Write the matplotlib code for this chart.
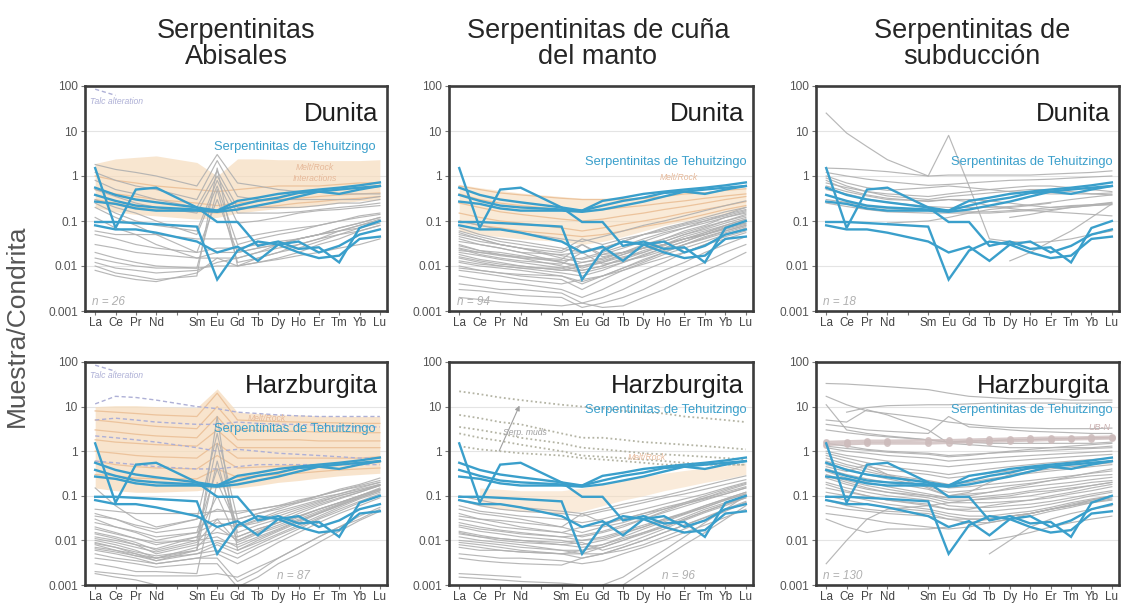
import numpy as np
import matplotlib
matplotlib.use("Agg")
import matplotlib.pyplot as plt
from matplotlib.ticker import FixedLocator, NullLocator

plt.rcParams['font.family'] = ['Liberation Sans', 'DejaVu Sans']

nan = float("nan")

# Rare earth elements (Pm has a slot on the axis but no data)
ree = ["La", "Ce", "Pr", "Nd", "Sm", "Eu", "Gd", "Tb", "Dy", "Ho", "Er", "Tm", "Yb", "Lu"]
ree_pos = [0, 1, 2, 3, 5, 6, 7, 8, 9, 10, 11, 12, 13, 14]

# Serpentinitas de Tehuitzingo (chondrite normalised)
teh_1 = [1.5, 0.07, 0.5, 0.55, 0.2, 0.095, 0.095, 0.028, 0.035, 0.024, 0.026, 0.012, 0.07, 0.1]
teh_2 = [0.095, 0.095, 0.09, 0.085, 0.075, 0.005, 0.022, 0.035, 0.03, 0.02, 0.015, 0.017, 0.04, 0.045]
teh_3 = [0.08, 0.065, 0.065, 0.055, 0.035, 0.02, 0.027, 0.013, 0.03, 0.035, 0.02, 0.028, 0.05, 0.065]
teh_4 = [0.55, 0.38, 0.3, 0.26, 0.2, 0.17, 0.28, 0.33, 0.4, 0.45, 0.5, 0.55, 0.62, 0.72]
teh_5 = [0.38, 0.28, 0.22, 0.2, 0.18, 0.17, 0.22, 0.28, 0.33, 0.42, 0.45, 0.4, 0.5, 0.6]
teh_6 = [0.27, 0.24, 0.19, 0.17, 0.17, 0.16, 0.18, 0.22, 0.27, 0.35, 0.45, 0.5, 0.55, 0.6]
tehuitzingo = [teh_1, teh_2, teh_3, teh_4, teh_5, teh_6]

# --- Abyssal dunites (n = 26) ---
abys_dun = [
    [1.8, 1.4, 1.2, 1.0, 0.6, 3.0, 0.7, 0.6, 0.5, 0.45, 0.45, 0.4, 0.4, 0.4],
    [1.2, 0.8, 0.6, 0.5, 0.3, 2.2, 0.35, 0.3, 0.3, 0.3, 0.3, 0.3, 0.3, 0.35],
    [0.8, 0.5, 0.4, 0.3, 0.2, 1.3, 0.2, 0.2, 0.2, 0.2, 0.22, 0.25, 0.25, 0.3],
    [0.5, 0.35, 0.25, 0.2, 0.15, 1.0, 0.15, 0.15, 0.15, 0.16, 0.18, 0.2, 0.22, 0.25],
    [0.3, 0.2, 0.15, 0.1, 0.05, 0.6, 0.03, 0.04, 0.05, 0.06, 0.08, 0.1, 0.13, 0.15],
    [0.2, 0.12, 0.08, 0.05, 0.02, 0.3, 0.02, 0.025, 0.03, 0.04, 0.05, 0.07, 0.09, 0.12],
    [0.12, 0.07, 0.05, 0.03, 0.015, 0.015, 0.015, 0.02, 0.025, 0.03, 0.04, 0.05, 0.06, 0.08],
    [0.05, 0.04, 0.03, 0.025, 0.02, 0.025, 0.025, 0.03, 0.035, 0.04, 0.05, 0.06, 0.07, 0.09],
    [0.03, 0.025, 0.02, 0.018, 0.015, 0.02, 0.02, 0.025, 0.03, 0.04, 0.05, 0.06, 0.08, 0.1],
    [0.02, 0.015, 0.012, 0.01, 0.009, 0.5, 0.012, 0.015, 0.02, 0.03, 0.04, 0.06, 0.08, 0.11],
    [0.012, 0.009, 0.008, 0.007, 0.008, 0.012, 0.015, 0.02, 0.03, 0.04, 0.05, 0.07, 0.09, 0.12],
    [0.01, 0.007, 0.006, 0.005, 0.006, 1.5, 0.01, 0.012, 0.015, 0.02, 0.03, 0.04, 0.06, 0.08],
    [0.008, 0.006, 0.005, 0.0045, 0.007, 0.015, 0.01, 0.015, 0.02, 0.025, 0.035, 0.05, 0.07, 0.1],
    [0.25, 0.15, 0.1, 0.08, 0.06, 0.8, 0.09, 0.1, 0.12, 0.15, 0.17, 0.18, 0.2, 0.22],
    [0.06, 0.05, 0.05, 0.05, 0.04, 0.04, 0.04, 0.05, 0.06, 0.07, 0.08, 0.1, 0.12, 0.14],
    [0.015, 0.012, 0.01, 0.009, 0.009, 0.01, 0.01, 0.012, 0.014, 0.017, 0.02, 0.025, 0.03, 0.04],
]
abys_dun_field_hi = [1.9, 2.4, 2.6, 2.8, 2.0, 1.0, 2.4, 2.4, 2.3, 2.3, 2.2, 2.2, 2.2, 2.3]
abys_dun_field_lo = [0.2, 0.16, 0.14, 0.13, 0.11, 0.12, 0.15, 0.17, 0.19, 0.2, 0.22, 0.25, 0.28, 0.3]
abys_dun_melt = [
    [1.0, 0.8, 0.7, 0.6, 0.5, 0.45, 0.5, 0.55, 0.6, 0.6, 0.6, 0.65, 0.7, 0.7],
    [0.5, 0.4, 0.35, 0.3, 0.25, 0.22, 0.25, 0.28, 0.3, 0.32, 0.35, 0.38, 0.4, 0.42],
    [0.3, 0.25, 0.2, 0.18, 0.16, 0.15, 0.18, 0.2, 0.22, 0.25, 0.27, 0.3, 0.32, 0.35],
]
talc_line = [85, 62]

# --- Mantle wedge dunites (n = 94) ---
wedge_dun = [
    [0.05, 0.04, 0.03, 0.025, 0.015, 0.012, 0.015, 0.02, 0.03, 0.04, 0.06, 0.08, 0.12, 0.16],
    [0.04, 0.03, 0.025, 0.02, 0.012, 0.01, 0.013, 0.018, 0.025, 0.035, 0.05, 0.07, 0.1, 0.13],
    [0.035, 0.03, 0.025, 0.02, 0.018, 0.02, 0.025, 0.035, 0.05, 0.07, 0.09, 0.12, 0.16, 0.2],
    [0.03, 0.022, 0.018, 0.015, 0.01, 0.008, 0.01, 0.015, 0.022, 0.03, 0.045, 0.06, 0.08, 0.11],
    [0.025, 0.02, 0.017, 0.015, 0.013, 0.015, 0.02, 0.028, 0.04, 0.055, 0.07, 0.09, 0.12, 0.15],
    [0.02, 0.017, 0.014, 0.012, 0.009, 0.007, 0.009, 0.012, 0.018, 0.025, 0.035, 0.05, 0.07, 0.09],
    [0.018, 0.014, 0.012, 0.01, 0.008, 0.01, 0.012, 0.018, 0.025, 0.035, 0.05, 0.065, 0.09, 0.12],
    [0.015, 0.012, 0.01, 0.009, 0.007, 0.006, 0.008, 0.012, 0.017, 0.025, 0.035, 0.05, 0.07, 0.1],
    [0.012, 0.01, 0.009, 0.008, 0.006, 0.004, 0.006, 0.009, 0.013, 0.02, 0.03, 0.045, 0.06, 0.08],
    [0.01, 0.008, 0.007, 0.006, 0.005, 0.003, 0.005, 0.008, 0.012, 0.018, 0.025, 0.035, 0.05, 0.07],
    [0.008, 0.007, 0.006, 0.005, 0.004, 0.005, 0.006, 0.009, 0.014, 0.02, 0.03, 0.04, 0.055, 0.075],
    [0.006, 0.005, 0.0045, 0.004, 0.003, 0.002, 0.003, 0.005, 0.008, 0.012, 0.02, 0.03, 0.045, 0.06],
    [0.004, 0.0035, 0.003, 0.003, 0.0025, 0.0015, 0.002, 0.003, 0.005, 0.008, 0.012, 0.02, 0.03, 0.045],
    [0.07, 0.05, 0.04, 0.035, 0.025, 0.02, 0.025, 0.035, 0.05, 0.065, 0.085, 0.11, 0.14, 0.18],
    [0.06, 0.045, 0.035, 0.03, 0.022, 0.04, 0.03, 0.04, 0.05, 0.06, 0.08, 0.1, 0.13, 0.17],
    [0.045, 0.035, 0.03, 0.025, 0.02, 0.03, 0.018, 0.02, 0.025, 0.03, 0.04, 0.05, 0.07, 0.09],
    [0.022, 0.02, 0.018, 0.016, 0.014, 0.03, 0.016, 0.02, 0.025, 0.03, 0.04, 0.05, 0.065, 0.085],
    [0.028, 0.022, 0.02, 0.017, 0.012, 0.009, 0.012, 0.016, 0.02, 0.028, 0.04, 0.055, 0.075, 0.1],
    [0.016, 0.013, 0.011, 0.01, 0.008, 0.008, 0.01, 0.014, 0.02, 0.03, 0.04, 0.055, 0.08, 0.11],
    [0.009, 0.008, 0.007, 0.0065, 0.006, 0.0045, 0.006, 0.008, 0.011, 0.015, 0.02, 0.03, 0.04, 0.055],
    [0.003, 0.0028, 0.0025, 0.0022, 0.002, 0.0012, 0.0015, 0.002, 0.003, 0.005, 0.008, 0.012, 0.02, 0.03],
    [0.002, 0.0018, 0.0016, 0.0015, 0.0013, 0.0015, 0.0012, 0.0013, 0.002, 0.003, 0.005, 0.008, 0.012, 0.02],
    [0.1, 0.08, 0.065, 0.055, 0.04, 0.035, 0.045, 0.06, 0.08, 0.1, 0.13, 0.17, 0.22, 0.28],
    [0.055, 0.04, 0.03, 0.025, 0.017, 0.014, 0.018, 0.025, 0.035, 0.05, 0.07, 0.1, 0.14, 0.2],
    [0.013, 0.011, 0.01, 0.009, 0.009, 0.012, 0.014, 0.02, 0.028, 0.04, 0.055, 0.075, 0.1, 0.14],
    [0.024, 0.018, 0.015, 0.013, 0.011, 0.02, 0.011, 0.013, 0.016, 0.022, 0.03, 0.042, 0.06, 0.08],
]
wedge_dun_field_hi = [0.65, 0.55, 0.48, 0.42, 0.35, 0.32, 0.32, 0.33, 0.35, 0.38, 0.42, 0.45, 0.5, 0.55]
wedge_dun_field_lo = [0.06, 0.05, 0.045, 0.04, 0.035, 0.03, 0.035, 0.045, 0.06, 0.08, 0.1, 0.12, 0.15, 0.2]
wedge_dun_melt = [
    [0.6, 0.5, 0.42, 0.38, 0.32, 0.3, 0.3, 0.3, 0.32, 0.35, 0.4, 0.42, 0.48, 0.52],
    [0.4, 0.3, 0.25, 0.22, 0.18, 0.16, 0.18, 0.2, 0.22, 0.25, 0.28, 0.32, 0.36, 0.4],
    [0.25, 0.2, 0.16, 0.14, 0.11, 0.1, 0.11, 0.13, 0.15, 0.18, 0.21, 0.25, 0.3, 0.35],
    [0.15, 0.12, 0.1, 0.09, 0.07, 0.06, 0.07, 0.085, 0.1, 0.12, 0.15, 0.18, 0.22, 0.27],
    [0.1, 0.08, 0.07, 0.06, 0.05, 0.045, 0.05, 0.06, 0.075, 0.09, 0.11, 0.14, 0.18, 0.22],
]

# --- Subduction dunites (n = 18) ---
subd_dun = [
    [25, 9, 4.5, 2.3, 1.0, 8.0, 0.6, 0.04, 0.035, 0.033, 0.035, 0.04, 0.05, 0.06],
    [1.5, 1.45, 1.35, 1.25, 1.0, 1.05, 1.05, 1.05, 1.05, 1.05, 1.1, 1.15, 1.2, 1.3],
    [1.2, 1.0, 0.85, 0.75, 0.62, 0.65, 0.7, 0.75, 0.8, 0.82, 0.85, 0.9, 0.95, 1.0],
    [1.0, 0.7, 0.55, 0.48, 0.55, 0.6, 0.55, 0.5, 0.45, 0.42, 0.4, 0.4, 0.4, 0.42],
    [0.9, 0.6, 0.45, 0.36, 0.3, 0.35, 0.38, 0.42, 0.46, 0.5, 0.5, 0.45, 0.4, 0.38],
    [0.8, 0.5, 0.38, 0.32, 0.27, 0.3, 0.27, 0.22, 0.19, 0.17, 0.16, 0.15, 0.14, 0.13],
    [0.6, 0.45, 0.36, 0.3, 0.28, 0.3, 0.3, 0.28, 0.25, 0.22, 0.2, 0.21, 0.23, 0.26],
    [0.5, 0.4, 0.31, 0.26, 0.21, 0.2, 0.2, 0.2, 0.21, 0.23, 0.26, 0.3, 0.34, 0.38],
    [0.3, 0.26, 0.21, 0.19, 0.17, 0.16, 0.16, 0.16, 0.17, 0.18, 0.2, 0.22, 0.23, 0.25],
    [0.25, 0.21, 0.18, 0.16, 0.15, 0.15, 0.15, 0.15, 0.16, 0.17, 0.18, 0.2, 0.22, 0.24],
    [nan, nan, nan, nan, nan, nan, nan, nan, 0.013, 0.02, 0.035, 0.06, 0.12, 0.24],
    [nan, nan, nan, nan, nan, nan, nan, nan, 0.12, 0.14, 0.17, 0.2, 0.22, 0.23],
    [0.7, 0.55, 0.45, 0.4, 0.35, 0.4, 0.45, 0.5, 0.55, 0.6, 0.6, 0.55, 0.5, 0.45],
    [nan, nan, nan, 0.09, 0.1, 0.12, 0.15, 0.18, 0.2, 0.22, 0.25, nan, nan, nan],
]

# --- Abyssal harzburgites (n = 87) ---
abys_hz = [
    [0.04, 0.03, 0.02, 0.015, 0.02, 0.03, 0.03, 0.04, 0.05, 0.07, 0.1, 0.13, 0.17, 0.22],
    [0.03, 0.02, 0.015, 0.01, 0.015, 0.4, 0.02, 0.03, 0.045, 0.06, 0.08, 0.11, 0.15, 0.2],
    [0.02, 0.015, 0.011, 0.008, 0.012, 0.015, 0.012, 0.018, 0.025, 0.035, 0.05, 0.07, 0.1, 0.14],
    [0.015, 0.012, 0.009, 0.006, 0.01, 1.5, 0.015, 0.022, 0.03, 0.045, 0.065, 0.09, 0.12, 0.17],
    [0.012, 0.01, 0.008, 0.005, 0.008, 0.01, 0.008, 0.012, 0.018, 0.028, 0.04, 0.06, 0.09, 0.13],
    [0.01, 0.008, 0.006, 0.004, 0.007, 0.02, 0.01, 0.015, 0.022, 0.033, 0.05, 0.07, 0.1, 0.15],
    [0.009, 0.007, 0.005, 0.004, 0.006, 6.0, 0.006, 0.01, 0.016, 0.025, 0.04, 0.06, 0.09, 0.13],
    [0.008, 0.006, 0.005, 0.0035, 0.005, 0.008, 0.005, 0.008, 0.013, 0.02, 0.032, 0.05, 0.075, 0.11],
    [0.007, 0.006, 0.0045, 0.0035, 0.006, 0.6, 0.012, 0.018, 0.025, 0.035, 0.05, 0.07, 0.1, 0.14],
    [0.006, 0.005, 0.004, 0.003, 0.004, 0.005, 0.003, 0.005, 0.009, 0.015, 0.025, 0.04, 0.06, 0.09],
    [0.005, 0.004, 0.0035, 0.003, 0.004, 0.004, 0.0012, 0.002, 0.004, 0.007, 0.012, 0.02, 0.035, 0.055],
    [0.004, 0.0035, 0.003, 0.0025, 0.003, 0.003, 0.0009, 0.0015, 0.003, 0.005, 0.009, 0.016, 0.028, 0.045],
    [0.003, 0.0025, 0.002, 0.002, 0.0018, 0.2, 0.02, 0.025, 0.035, 0.05, 0.07, 0.1, 0.13, 0.18],
    [0.002, 0.0018, 0.0016, 0.0016, 0.0016, 0.0018, 0.0015, 0.0025, 0.004, 0.007, 0.012, 0.02, 0.03, 0.05],
    [0.0018, 0.0015, 0.0013, 0.001, nan, nan, nan, nan, nan, nan, nan, nan, nan, nan],
    [0.15, 0.06, 0.03, 0.02, 0.03, 0.05, 0.04, 0.05, 0.06, 0.08, 0.1, 0.13, 0.16, 0.2],
    [0.05, 0.045, 0.04, 0.04, 0.04, 0.045, 0.045, 0.05, 0.06, 0.07, 0.09, 0.11, 0.14, 0.18],
    [0.025, 0.02, 0.016, 0.012, 0.015, 0.025, 0.02, 0.028, 0.04, 0.055, 0.075, 0.1, 0.13, 0.17],
    [0.011, 0.009, 0.007, 0.0055, 0.009, 0.03, 0.009, 0.014, 0.02, 0.03, 0.045, 0.065, 0.1, 0.14],
    [0.0065, 0.0055, 0.0045, 0.004, 0.005, 0.006, 0.004, 0.007, 0.011, 0.018, 0.03, 0.045, 0.07, 0.1],
    [0.014, 0.011, 0.008, 0.0065, 0.012, 0.1, 0.01, 0.016, 0.025, 0.04, 0.06, 0.085, 0.12, 0.17],
    [0.035, 0.03, 0.022, 0.018, 0.03, 2.5, 0.03, 0.04, 0.055, 0.075, 0.1, 0.14, 0.18, 0.25],
    [0.018, 0.014, 0.011, 0.009, 0.01, 0.012, 0.007, 0.011, 0.017, 0.027, 0.042, 0.063, 0.095, 0.14],
    [0.0085, 0.007, 0.0055, 0.0045, 0.006, 0.009, 0.006, 0.009, 0.014, 0.022, 0.035, 0.055, 0.085, 0.12],
]
abys_hz_field_hi = [10, 10.5, 10.5, 10, 9.5, 25, 7.5, 7, 6.5, 6.5, 6.2, 6, 6, 6]
abys_hz_field_lo = [0.15, 0.13, 0.12, 0.12, 0.13, 0.15, 0.15, 0.17, 0.2, 0.22, 0.25, 0.28, 0.3, 0.32]
abys_hz_melt = [
    [8, 7.5, 7, 6.5, 6, 20, 5, 4.8, 4.6, 4.5, 4.4, 4.3, 4.2, 4.2],
    [5, 4.5, 4, 3.6, 3.2, 10, 3, 2.9, 2.8, 2.8, 2.7, 2.7, 2.6, 2.6],
    [3, 2.7, 2.4, 2.2, 2, 6, 1.8, 1.8, 1.8, 1.8, 1.7, 1.7, 1.7, 1.7],
    [1.8, 1.6, 1.5, 1.4, 1.3, 3, 1.2, 1.2, 1.2, 1.2, 1.2, 1.2, 1.2, 1.2],
    [1.0, 0.9, 0.8, 0.75, 0.7, 1.5, 0.7, 0.7, 0.7, 0.7, 0.7, 0.7, 0.7, 0.75],
    [0.6, 0.5, 0.45, 0.42, 0.4, 0.8, 0.42, 0.44, 0.46, 0.48, 0.5, 0.52, 0.54, 0.56],
    [0.3, 0.28, 0.25, 0.24, 0.24, 0.4, 0.26, 0.28, 0.3, 0.32, 0.35, 0.38, 0.4, 0.42],
]
abys_hz_talc = [
    [11.5, 17, 16, 14, 10, 9, 7.5, 7, 6.5, 6.2, 6, 6, 6, 6],
    [5, 5.5, 5, 4.5, 4, 4, 4.5, 4.2, 4, 4, 3.8, 3.6, 3.5, 3.5],
    [2.2, 2, 1.8, 1.6, 1.2, 1, 1.1, 1, 0.9, 0.85, 0.8, 0.75, 0.7, 0.7],
    [0.6, 0.55, 0.5, 0.45, 0.4, 0.4, 0.45, 0.5, 0.5, 0.5, 0.5, 0.5, 0.5, 0.5],
]

# --- Mantle wedge harzburgites (n = 96) ---
wedge_hz = [
    [0.08, 0.06, 0.05, 0.045, 0.04, 0.035, 0.045, 0.055, 0.07, 0.09, 0.11, 0.14, 0.18, 0.23],
    [0.06, 0.045, 0.04, 0.035, 0.03, 0.025, 0.03, 0.04, 0.05, 0.065, 0.085, 0.11, 0.15, 0.2],
    [0.05, 0.04, 0.035, 0.03, 0.02, 0.015, 0.02, 0.025, 0.035, 0.05, 0.07, 0.1, 0.14, 0.19],
    [0.04, 0.03, 0.025, 0.02, 0.015, 0.012, 0.015, 0.02, 0.03, 0.045, 0.065, 0.09, 0.13, 0.18],
    [0.03, 0.025, 0.02, 0.018, 0.015, 0.02, 0.022, 0.03, 0.04, 0.055, 0.07, 0.09, 0.12, 0.16],
    [0.025, 0.02, 0.017, 0.015, 0.012, 0.01, 0.012, 0.016, 0.022, 0.03, 0.042, 0.06, 0.085, 0.12],
    [0.02, 0.016, 0.014, 0.012, 0.01, 0.008, 0.01, 0.014, 0.02, 0.028, 0.04, 0.055, 0.08, 0.11],
    [0.016, 0.013, 0.011, 0.01, 0.009, 0.01, 0.011, 0.015, 0.02, 0.03, 0.04, 0.06, 0.085, 0.12],
    [0.014, 0.012, 0.01, 0.009, 0.008, 0.007, 0.008, 0.011, 0.015, 0.02, 0.03, 0.045, 0.065, 0.09],
    [0.012, 0.01, 0.009, 0.008, 0.006, 0.005, 0.007, 0.01, 0.014, 0.02, 0.03, 0.045, 0.065, 0.095],
    [0.01, 0.009, 0.008, 0.007, 0.006, 0.006, 0.008, 0.012, 0.018, 0.026, 0.038, 0.055, 0.08, 0.11],
    [0.009, 0.008, 0.007, 0.006, 0.005, 0.004, 0.005, 0.007, 0.01, 0.015, 0.022, 0.032, 0.048, 0.07],
    [0.008, 0.007, 0.006, 0.0055, 0.005, 0.006, 0.007, 0.01, 0.015, 0.022, 0.033, 0.05, 0.07, 0.1],
    [0.005, 0.0045, 0.004, 0.004, 0.0035, 0.003, 0.0035, 0.005, 0.007, 0.01, 0.015, 0.022, 0.033, 0.05],
    [0.004, 0.0035, 0.0032, 0.003, 0.0028, 0.004, 0.005, 0.007, 0.01, 0.015, 0.022, 0.033, 0.05, 0.075],
    [0.0018, 0.0017, 0.0016, 0.0015, nan, nan, nan, nan, nan, nan, nan, nan, nan, nan],
    [0.0015, 0.0014, 0.0013, 0.0012, 0.0011, 0.001, nan, nan, nan, nan, nan, nan, nan, nan],
    [nan, nan, nan, nan, nan, nan, nan, 0.001, 0.002, 0.004, 0.008, 0.015, 0.03, 0.06],
    [nan, nan, nan, nan, nan, nan, 0.001, 0.0015, 0.003, 0.006, 0.012, 0.025, 0.05, 0.1],
    [0.1, 0.08, 0.065, 0.055, 0.045, 0.04, 0.05, 0.065, 0.08, 0.1, 0.13, 0.17, 0.22, 0.28],
    [0.035, 0.03, 0.028, 0.025, 0.02, 0.04, 0.025, 0.03, 0.04, 0.05, 0.065, 0.085, 0.11, 0.15],
    [0.015, 0.012, 0.011, 0.01, 0.008, 0.009, 0.006, 0.008, 0.012, 0.018, 0.028, 0.042, 0.06, 0.09],
    [0.007, 0.006, 0.006, 0.0055, 0.005, 0.005, 0.005, 0.006, 0.008, 0.012, 0.018, 0.028, 0.045, 0.07],
    [0.022, 0.018, 0.016, 0.014, 0.012, 0.013, 0.016, 0.022, 0.03, 0.042, 0.058, 0.08, 0.11, 0.15],
]
wedge_hz_muds = [
    [22, 19, 16, 14, 11, 10, 9, 8, 7.5, 7, 6, 5.5, 5, 4.5],
    [6.5, 5.5, 4.5, 4, 2.5, 2, 2, 1.8, 1.6, 1.5, 1.4, 1.3, 1.2, 1.1],
    [3.5, 3, 2.5, 2, 1.5, 1.2, 1.1, 1.0, 0.9, 0.85, 0.8, 0.75, 0.7, 0.65],
    [2.5, 2, 1.7, 1.4, 1.0, 0.8, 0.75, 0.7, 0.65, 0.6, 0.55, 0.5, 0.5, 0.5],
    [1.3, 1.1, 1.0, 0.9, 0.8, 0.7, 0.65, 0.6, 0.55, 0.5, 0.5, 0.5, 0.5, 0.5],
]
wedge_hz_field_hi = [nan, 0.15, 0.14, 0.13, 0.13, 0.15, 0.18, 0.22, 0.27, 0.32, 0.37, 0.42, 0.47, 0.55]
wedge_hz_field_lo = [nan, 0.06, 0.05, 0.045, 0.04, 0.045, 0.06, 0.08, 0.1, 0.13, 0.16, 0.2, 0.24, 0.3]

# --- Subduction harzburgites (n = 130) ---
subd_hz = [
    [33, 32, 30, 28, 24, 20, 17, 16, 15, 15, 15, 14, 14, 14],
    [17, 11, 8, 7, 5.5, 4.5, 4, 3.6, 3.4, 3.3, 3.2, 3.2, 3.2, 3.3],
    [11, 3, 2.5, 2.2, 1.8, 1.6, 1.7, 1.7, 1.8, 1.8, 1.9, 1.9, 2, 2],
    [nan, 7.5, 9.5, 10.5, 11, 11, 11.5, 12, 12, 12, 12, 12, 12, 12.5],
    [5, 4.5, 8.5, 6.5, 3, 1.5, 1.4, 1.3, 1.2, 1.2, 1.2, 1.2, 1.2, 1.3],
    [4, 3.5, 3, 2.8, 2.5, 6, 3.5, 3.3, 3, 2.8, 2.7, 2.6, 2.5, 2.5],
    [3, 2.6, 2.3, 2.1, 1.8, 1.6, 1.6, 1.5, 1.5, 1.5, 1.5, 1.5, 1.5, 1.6],
    [1.5, 1.3, 1.1, 1.0, 0.9, 0.8, 0.85, 0.9, 0.95, 1.0, 1.05, 1.1, 1.15, 1.2],
    [1.2, 1.0, 0.9, 0.8, 0.7, 0.6, 0.65, 0.7, 0.75, 0.8, 0.85, 0.9, 0.95, 1.0],
    [1.0, 0.8, 0.7, 0.6, 0.5, 0.45, 0.5, 0.55, 0.6, 0.65, 0.7, 0.75, 0.8, 0.85],
    [0.9, 0.7, 0.55, 0.45, 0.35, 0.3, 0.35, 0.4, 0.45, 0.5, 0.55, 0.6, 0.65, 0.7],
    [0.8, 0.6, 0.45, 0.38, 0.3, 0.25, 0.28, 0.32, 0.36, 0.4, 0.45, 0.5, 0.55, 0.6],
    [0.7, 0.5, 0.4, 0.3, 0.22, 0.18, 0.2, 0.24, 0.28, 0.32, 0.36, 0.4, 0.45, 0.5],
    [0.6, 0.45, 0.35, 0.28, 0.2, 0.15, 0.16, 0.18, 0.2, 0.22, 0.25, 0.28, 0.32, 0.36],
    [0.5, 0.4, 0.3, 0.24, 0.16, 0.12, 0.13, 0.15, 0.17, 0.19, 0.22, 0.25, 0.28, 0.3],
    [0.4, 0.3, 0.24, 0.2, 0.14, 0.1, 0.11, 0.12, 0.14, 0.16, 0.18, 0.2, 0.23, 0.26],
    [0.35, 0.25, 0.2, 0.16, 0.11, 0.09, 0.09, 0.1, 0.11, 0.13, 0.15, 0.17, 0.2, 0.22],
    [0.3, 0.22, 0.17, 0.14, 0.1, 0.08, 0.08, 0.085, 0.09, 0.1, 0.12, 0.14, 0.17, 0.2],
    [0.25, 0.18, 0.14, 0.12, 0.09, 0.07, 0.07, 0.07, 0.075, 0.08, 0.09, 0.11, 0.13, 0.16],
    [0.2, 0.15, 0.12, 0.1, 0.08, 0.06, 0.055, 0.055, 0.06, 0.065, 0.075, 0.09, 0.11, 0.13],
    [0.15, 0.12, 0.1, 0.08, 0.065, 0.05, 0.045, 0.045, 0.05, 0.055, 0.065, 0.08, 0.1, 0.12],
    [0.12, 0.1, 0.08, 0.065, 0.05, 0.04, 0.035, 0.035, 0.04, 0.045, 0.055, 0.07, 0.085, 0.1],
    [0.1, 0.08, 0.065, 0.055, 0.045, 0.035, 0.03, 0.03, 0.035, 0.04, 0.05, 0.06, 0.075, 0.09],
    [0.08, 0.06, 0.05, 0.045, 0.04, 0.03, 0.025, 0.025, 0.03, 0.035, 0.045, 0.055, 0.07, 0.085],
    [0.06, 0.05, 0.045, 0.04, 0.035, 0.03, 0.03, 0.03, 0.035, 0.04, 0.05, 0.06, 0.08, 0.1],
    [0.04, 0.035, 0.03, 0.025, 0.02, 0.018, 0.02, 0.025, 0.03, 0.04, 0.05, 0.065, 0.08, 0.1],
    [0.03, 0.02, 0.015, 0.018, 0.018, 0.02, 0.025, 0.03, 0.035, 0.04, 0.05, 0.06, 0.07, 0.08],
    [0.003, 0.01, 0.03, 0.05, 0.06, 0.07, 0.08, 0.09, 0.1, 0.12, 0.13, 0.15, 0.17, 0.2],
    [nan, nan, nan, nan, nan, nan, 0.01, 0.01, 0.012, 0.015, 0.02, 0.025, 0.03, 0.035],
    [nan, nan, nan, nan, nan, nan, nan, 0.005, 0.01, 0.02, 0.03, 0.04, 0.05, 0.06],
    [0.45, 0.35, 0.5, 0.3, 0.15, 0.1, 0.12, 0.2, 0.3, 0.35, 0.4, 0.45, 0.5, 0.55],
    [1.3, 1.15, 1.05, 0.95, 0.85, 0.75, 0.8, 0.9, 1.0, 1.1, 1.2, 1.3, 1.4, 1.5],
    [0.28, 0.2, 0.15, 0.12, 0.1, 0.09, 0.1, 0.12, 0.15, 0.18, 0.22, 0.27, 0.33, 0.4],
    [0.18, 0.13, 0.1, 0.08, 0.06, 0.05, 0.05, 0.06, 0.07, 0.08, 0.1, 0.12, 0.15, 0.18],
]
subd_hz_ubn = [
    [1.4, 1.45, 1.5, 1.5, 1.5, 1.55, 1.6, 1.65, 1.7, 1.75, 1.8, 1.85, 1.9, 1.95],
    [1.6, 1.65, 1.7, 1.7, 1.75, 1.75, 1.8, 1.85, 1.9, 1.95, 2.0, 2.0, 2.05, 2.1],
]

# ---------------------------------------------------------------- figure
W, H = 1121, 605
fig = plt.figure(figsize=(W / 100, H / 100), dpi=100)
fig.patch.set_facecolor("white")

GRAY = "#b0b0b0"
BLUE = "#3a9fcb"
PEACH = "#f6dcbd"
ORANGE = "#ecc39c"
LAVENDER = "#aeb0d6"


def fx(x):
    return x / W


def fy(y):
    return 1 - y / H


def make_panel(left, top, right, bottom):
    ax = fig.add_axes([fx(left), fy(bottom), (right - left) / W, (bottom - top) / H])
    ax.set_yscale("log")
    ax.set_ylim(0.001, 100)
    ax.set_xlim(-0.5, 14.35)
    ax.yaxis.set_major_locator(FixedLocator([0.001, 0.01, 0.1, 1, 10, 100]))
    ax.yaxis.set_minor_locator(NullLocator())
    ax.set_yticklabels(["0.001", "0.01", "0.1", "1", "10", "100"])
    ax.set_xticks(list(range(15)))
    ax.set_xticklabels(ree[:4] + [""] + ree[4:])
    ax.tick_params(axis="both", direction="out", length=3.2, width=0.8,
                   color="#777777", labelsize=8.6, labelcolor="#555555", pad=2)
    ax.tick_params(axis="x", labelcolor="#444444", pad=1.2, labelsize=8.4)
    for s in ax.spines.values():
        s.set_linewidth(1.9)
        s.set_color("#3c3c3c")
    for v in [0.01, 0.1, 1, 10]:
        ax.axhline(v, color="#e4e4e4", lw=0.8, zorder=0)
    return ax


def draw_lines(ax, rows, **kw):
    for r in rows:
        ax.plot(ree_pos, np.array(r, dtype=float), **kw)


def draw_teh(ax):
    for r in tehuitzingo:
        ax.plot(ree_pos, r, color=BLUE, lw=1.7, zorder=6, solid_joinstyle="miter")


cols = [(85, 387), (449, 753), (816, 1119)]
rows = [(86, 311), (362, 585)]

axes = {}
for i, (t, b) in enumerate(rows):
    for j, (l, r) in enumerate(cols):
        axes[(i, j)] = make_panel(l, t, r, b)

gkw = dict(color=GRAY, lw=0.85, alpha=0.9, zorder=2)

# Abyssal dunites
ax = axes[(0, 0)]
ax.fill_between(ree_pos, abys_dun_field_lo, abys_dun_field_hi, color=PEACH, alpha=0.7, lw=0, zorder=1)
draw_lines(ax, abys_dun_melt, color=ORANGE, lw=0.9, zorder=1.5)
draw_lines(ax, abys_dun, **gkw)
ax.plot(ree_pos[:2], talc_line, color=LAVENDER, lw=1.0, ls=(0, (3, 2)), zorder=2)
draw_teh(ax)

# Mantle wedge dunites
ax = axes[(0, 1)]
ax.fill_between(ree_pos, wedge_dun_field_lo, wedge_dun_field_hi, color=PEACH, alpha=0.6, lw=0, zorder=1)
draw_lines(ax, wedge_dun_melt, color=ORANGE, lw=0.9, zorder=1.5)
draw_lines(ax, wedge_dun, **gkw)
draw_teh(ax)

# Subduction dunites
ax = axes[(0, 2)]
draw_lines(ax, subd_dun, **gkw)
draw_teh(ax)

# Abyssal harzburgites
ax = axes[(1, 0)]
ax.fill_between(ree_pos, abys_hz_field_lo, abys_hz_field_hi, color=PEACH, alpha=0.75, lw=0, zorder=1)
draw_lines(ax, abys_hz_melt, color=ORANGE, lw=0.9, zorder=1.5)
draw_lines(ax, abys_hz_talc, color=LAVENDER, lw=1.0, ls=(0, (3, 2)), zorder=1.8)
draw_lines(ax, abys_hz, **gkw)
ax.plot(ree_pos[:2], talc_line, color=LAVENDER, lw=1.0, ls=(0, (3, 2)), zorder=2)
draw_teh(ax)

# Mantle wedge harzburgites
ax = axes[(1, 1)]
ax.fill_between(ree_pos, wedge_hz_field_lo, wedge_hz_field_hi, color=PEACH, alpha=0.55, lw=0, zorder=1)
draw_lines(ax, wedge_hz_muds, color="#b4b4a4", lw=1.3, ls=(0, (1, 1.5)), zorder=1.8)
draw_lines(ax, wedge_hz, **gkw)
ax.annotate("", xy=(3.0, 12), xytext=(1.9, 0.9),
            arrowprops=dict(arrowstyle="-|>", color="#a0a0a0", lw=0.8, mutation_scale=7))
draw_teh(ax)

# Subduction harzburgites
ax = axes[(1, 2)]
draw_lines(ax, subd_hz, **gkw)
for r in subd_hz_ubn:
    ax.plot(ree_pos, r, color="#cdbcbc", lw=2.0, marker="o", ms=4, alpha=0.8, zorder=3)
draw_teh(ax)

# ---------------------------------------------------------------- text
title_kw = dict(fontsize=19.5, color="#262626", ha="center", va="center", linespacing=1.05)
fig.text(fx(236), fy(44), "Serpentinitas\nAbisales", **title_kw)
fig.text(fx(598), fy(44), "Serpentinitas de cuña\ndel manto", **title_kw)
fig.text(fx(972), fy(44), "Serpentinitas de\nsubducción", **title_kw)

fig.text(fx(17), fy(326), "Muestra/Condrita", rotation=90, fontsize=19,
         color="#555555", ha="center", va="center")

rock_kw = dict(fontsize=18.5, color="#1e1e1e", ha="right", va="baseline")
blue_kw = dict(fontsize=9.3, color=BLUE, ha="right", va="baseline")
n_kw = dict(fontsize=8.5, color="#b0b0b0", style="italic", ha="left", va="baseline")

for j, (l, r) in enumerate(cols):
    fig.text(fx(r - 9), fy(121), "Dunita", **rock_kw)
    fig.text(fx(r - 9), fy(393), "Harzburgita", **rock_kw)

fig.text(fx(376), fy(150), "Serpentinitas de Tehuitzingo", **blue_kw)
fig.text(fx(747), fy(165), "Serpentinitas de Tehuitzingo", **blue_kw)
fig.text(fx(1113), fy(165), "Serpentinitas de Tehuitzingo", **blue_kw)
fig.text(fx(376), fy(432), "Serpentinitas de Tehuitzingo", **blue_kw)
fig.text(fx(747), fy(413), "Serpentinitas de Tehuitzingo", **blue_kw)
fig.text(fx(1113), fy(413), "Serpentinitas de Tehuitzingo", **blue_kw)

fig.text(fx(92), fy(305), "n = 26", **n_kw)
fig.text(fx(457), fy(305), "n = 94", **n_kw)
fig.text(fx(823), fy(305), "n = 18", **n_kw)
fig.text(fx(277), fy(579), "n = 87", **n_kw)
fig.text(fx(662), fy(579), "n = 96", **n_kw)
fig.text(fx(823), fy(579), "n = 130", **n_kw)

small_kw = dict(fontsize=6.2, style="italic", va="baseline", ha="left")
fig.text(fx(90), fy(104), "Talc alteration", color=LAVENDER, **small_kw)
fig.text(fx(90), fy(378), "Talc alteration", color=LAVENDER, **small_kw)
fig.text(fx(296), fy(170), "Melt/Rock", color="#e6b99a", **small_kw)
fig.text(fx(293), fy(181), "Interactions", color="#e6b99a", **small_kw)
fig.text(fx(660), fy(180), "Melt/Rock", color="#e6b99a", **small_kw)
fig.text(fx(248), fy(421), "Melt/Rock", color="#e6b99a", **small_kw)
fig.text(fx(628), fy(460), "Melt/Rock", color="#e6b99a", **small_kw)
fig.text(fx(503), fy(435), "Serp. muds", color="#a0a0a0", **small_kw)
fig.text(fx(1110), fy(430), "UB-N", color="#c9b0b0", fontsize=6.5, style="italic",
         va="baseline", ha="right")

fig.savefig("out.png", dpi=100, facecolor="white")
